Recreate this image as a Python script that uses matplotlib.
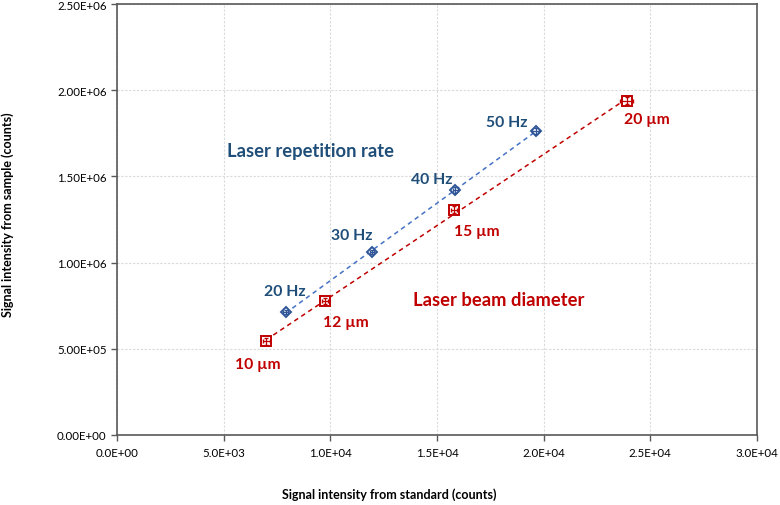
import matplotlib
matplotlib.use("Agg")
import matplotlib.pyplot as plt
import numpy as np

plt.rcParams['font.family'] = ['Lato', 'DejaVu Sans']

# Laser repetition rate series
rep_labels = ["20 Hz", "30 Hz", "40 Hz", "50 Hz"]
rep_x = [7.9e3, 11.95e3, 15.85e3, 19.62e3]
rep_y = [0.713e6, 1.061e6, 1.421e6, 1.763e6]
rep_xerr = [0.1e3, 0.1e3, 0.12e3, 0.15e3]
rep_yerr = [0.012e6, 0.012e6, 0.015e6, 0.015e6]

# Laser beam diameter series
dia_labels = ["10 µm", "12 µm", "15 µm", "20 µm"]
dia_x = [7.0e3, 9.75e3, 15.8e3, 23.9e3]
dia_y = [0.543e6, 0.777e6, 1.307e6, 1.938e6]
dia_xerr = [0.15e3, 0.15e3, 0.15e3, 0.3e3]
dia_yerr = [0.02e6, 0.02e6, 0.02e6, 0.02e6]

x_ticks = [0, 5e3, 1e4, 1.5e4, 2e4, 2.5e4, 3e4]
x_ticklabels = ["0.0E+00", "5.0E+03", "1.0E+04", "1.5E+04", "2.0E+04", "2.5E+04", "3.0E+04"]
y_ticks = [0, 5e5, 1e6, 1.5e6, 2e6, 2.5e6]
y_ticklabels = ["0.00E+00", "5.00E+05", "1.00E+06", "1.50E+06", "2.00E+06", "2.50E+06"]

BLUE_TXT = "#1F4E79"
BLUE = "#4472C4"
BLUE_MK = "#2F5597"
RED = "#C00000"

fig = plt.figure(figsize=(7.8, 5.06), dpi=100)
ax = fig.add_axes([117/780, 70/506, 640/780, 431/506])

# trend lines
for xs, ys, col in [(rep_x, rep_y, BLUE), (dia_x, dia_y, RED)]:
    p = np.polyfit(xs, ys, 1)
    xx = np.array([min(xs), max(xs)])
    ax.plot(xx, np.polyval(p, xx), linestyle=(0, (3, 2.5)), color=col, lw=1.1, zorder=2)

ax.plot(rep_x, rep_y, 'D', ms=5, mfc="white", mec=BLUE_MK, mew=1.4, zorder=3)
ax.errorbar(rep_x, rep_y, xerr=rep_xerr, yerr=rep_yerr, fmt='none', ecolor=BLUE_MK,
            elinewidth=0.9, capsize=1.5, zorder=4)
ax.plot(dia_x, dia_y, 's', ms=6.5, mfc="white", mec=RED, mew=1.4, zorder=3)
ax.errorbar(dia_x, dia_y, xerr=dia_xerr, yerr=dia_yerr, fmt='none', ecolor=RED,
            elinewidth=0.9, capsize=1.5, zorder=4)

ax.set_xlim(0, 3e4)
ax.set_ylim(0, 2.5e6)
ax.set_xticks(x_ticks)
ax.set_xticklabels(x_ticklabels)
ax.set_yticks(y_ticks)
ax.set_yticklabels(y_ticklabels)
ax.tick_params(axis='both', labelsize=8.3, color="#595959", length=4, width=1,
               labelcolor="#000000", direction='out')
ax.tick_params(axis='x', pad=5)
for s in ax.spines.values():
    s.set_color("#595959")
    s.set_linewidth(1.2)
ax.grid(True, color="#DADADA", linestyle=(0, (2, 1.5)), linewidth=0.8)
ax.set_axisbelow(True)

# point labels (pixel offsets from points)
rep_off = [(-22, 21), (-41, 17), (-44, 11), (-50, 9)]
for lab, x, y, (dx, dy) in zip(rep_labels, rep_x, rep_y, rep_off):
    ax.annotate(lab, (x, y), xytext=(dx, dy), textcoords='offset pixels',
                color=BLUE_TXT, fontsize=11.3, fontweight='bold', ha='left', va='center')
dia_off = [(-31, -23), (-2, -21), (0, -21), (-3, -18)]
for lab, x, y, (dx, dy) in zip(dia_labels, dia_x, dia_y, dia_off):
    ax.annotate(lab, (x, y), xytext=(dx, dy), textcoords='offset pixels',
                color=RED, fontsize=11.3, fontweight='bold', ha='left', va='center')

fig.text(227/780, 1 - 152/506, "Laser repetition rate", color=BLUE_TXT,
         fontsize=13.2, fontweight='bold', ha='left', va='center')
fig.text(413/780, 1 - 300/506, "Laser beam diameter", color=RED,
         fontsize=13.2, fontweight='bold', ha='left', va='center')

fig.text(389/780, 1 - 495/506, "Signal intensity from standard (counts)",
         fontsize=9, fontweight='bold', ha='center', va='center')
fig.text(8/780, 1 - 215/506, "Signal intensity from sample (counts)",
         fontsize=9, fontweight='bold', ha='center', va='center', rotation=90)

fig.savefig("out.png", dpi=100)
